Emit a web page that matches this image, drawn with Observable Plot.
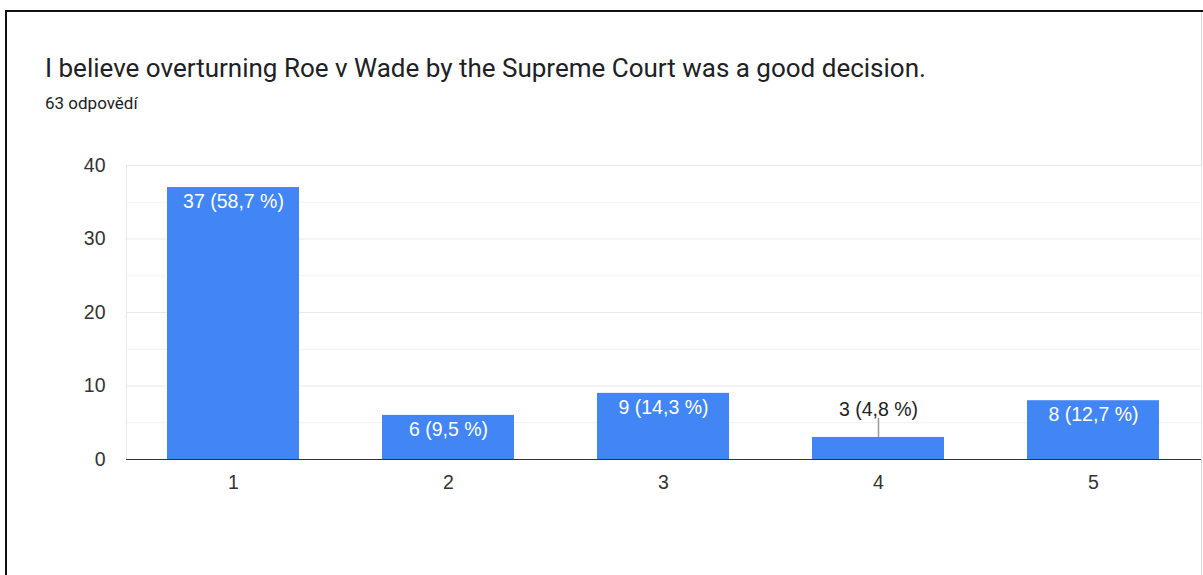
<!DOCTYPE html>
<html>
<head>
<meta charset="utf-8">
<script src="https://cdn.jsdelivr.net/npm/d3@7"></script>
<script src="https://cdn.jsdelivr.net/npm/@observablehq/plot@0.6"></script>
<style>
  html, body { margin: 0; padding: 0; background: #fff; }
  #wrap { position: relative; width: 1203px; height: 575px; overflow: hidden; font-family: Roboto, "Noto Sans", sans-serif; }
  #card { position: absolute; left: 5px; top: 10px; width: 1300px; height: 700px; border-left: 2px solid #111; border-top: 2px solid #111; }
  #rightline { position: absolute; left: 1201px; top: 12px; width: 1px; height: 600px; background: #d9d9d9; }
  #title { position: absolute; left: 45px; top: 54.5px; font-size: 26px; line-height: 26px; color: #202124; white-space: nowrap; }
  #sub { position: absolute; left: 45px; top: 94.5px; font-size: 17px; line-height: 17px; color: #202124; white-space: nowrap; }
  #chart { position: absolute; left: 0; top: 0; }
</style>
</head>
<body>
<div id="wrap">
  <div id="card"></div>
  <div id="rightline"></div>
  <div id="title"></div>
  <div id="sub"></div>
  <div id="chart"></div>
</div>
<script>
const titleText = "I believe overturning Roe v Wade by the Supreme Court was a good decision.";
const subtitleText = "63 odpovědí";
const categories = ["1", "2", "3", "4", "5"];
const counts = [37, 6, 9, 3, 8];
const percentLabels = ["58,7 %", "9,5 %", "14,3 %", "4,8 %", "12,7 %"];
const yTicks = [0, 10, 20, 30, 40];
const yMinorTicks = [5, 15, 25, 35];

document.getElementById("title").textContent = titleText;
document.getElementById("sub").textContent = subtitleText;

const data = categories.map((c, i) => ({cat: c, value: counts[i], label: `${counts[i]} (${percentLabels[i]})`}));
const inside = data.filter(d => d.value > 4);
const outside = data.filter(d => d.value <= 4);

const chart = Plot.plot({
  width: 1203,
  height: 575,
  marginLeft: 126,
  marginRight: 2,
  marginTop: 165,
  marginBottom: 116,
  style: {fontFamily: "'Liberation Sans', Arial, sans-serif", background: "transparent", overflow: "visible"},
  x: {domain: categories, paddingInner: 0.386, paddingOuter: 0.193, label: null},
  y: {domain: [0, 40], label: null},
  marks: [
    Plot.ruleY(yMinorTicks, {stroke: "#f2f2f2", strokeWidth: 1}),
    Plot.ruleY(yTicks, {stroke: "#e8e8e8", strokeWidth: 1}),
    Plot.frame({stroke: "#e8e8e8"}),
    Plot.barY(data, {x: "cat", y: "value", fill: "#4285f4"}),
    Plot.ruleY([0], {stroke: "#333", strokeWidth: 1}),
    Plot.axisY({ticks: yTicks, tickSize: 0, tickPadding: 21, fontSize: 19.5, fill: "#333", label: null}),
    Plot.axisX({tickSize: 0, tickPadding: 16, fontSize: 19.5, fill: "#333", label: null}),
    Plot.text(inside, {x: "cat", y: "value", text: "label", fill: "#fff", fontSize: 19.5, dy: 14}),
    Plot.ruleX(outside, {x: "cat", y1: "value", y2: "value", insetBottom: 19, stroke: "#999", strokeWidth: 1.5}),
    Plot.text(outside, {x: "cat", y: "value", text: "label", fill: "#222", fontSize: 19.5, dy: -28})
  ]
});
document.getElementById("chart").appendChild(chart);
</script>
</body>
</html>
